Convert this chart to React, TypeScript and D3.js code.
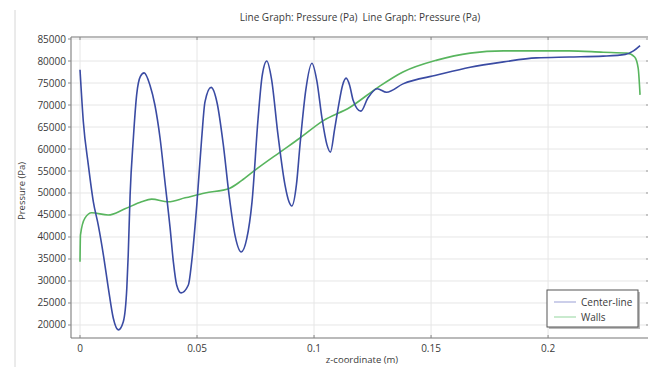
import React from "react";
import * as d3 from "d3";

// z-coordinate (m) and pressure (Pa) along the center-line
const centerZ = [
  0, 0.00142, 0.00355, 0.0057, 0.0078, 0.01, 0.0121, 0.0142, 0.0164, 0.0185, 0.02,
  0.0206, 0.0214, 0.0228, 0.0242, 0.0258, 0.0274, 0.0299, 0.032, 0.0342, 0.0363, 0.0385,
  0.0399, 0.0413, 0.0432, 0.0463, 0.0477, 0.0499, 0.052, 0.0534, 0.056, 0.0586, 0.0612,
  0.0637, 0.0663, 0.0689, 0.0712, 0.0735, 0.0761, 0.0778, 0.0798, 0.0818, 0.0846, 0.0876,
  0.0893, 0.0905, 0.0925, 0.094, 0.0965, 0.0991, 0.1012, 0.1034, 0.1055, 0.107, 0.1088,
  0.1103, 0.1122, 0.1137, 0.1152, 0.1167, 0.12, 0.123, 0.127, 0.131, 0.138, 0.1525,
  0.1667, 0.181, 0.195, 0.209, 0.2235, 0.233, 0.2365, 0.2393,
];
const centerP = [
  78000, 66200, 56400, 48000, 42700, 35900, 28400, 21600, 18900, 20750, 28400,
  35900, 49500, 62500, 72300, 76500, 77300, 74500, 70000, 62500, 52500, 42000,
  34300, 29100, 27300, 29100, 34300, 47300, 62500, 70700, 74000, 70400, 61100,
  49500, 40200, 36600, 39500, 48000, 67000, 76500, 80000, 76000, 63200, 51800,
  48000, 47050, 52000, 60900, 73500, 79500, 75500, 67000, 61000, 59300, 64500,
  69300, 74500, 76100, 74500, 71100, 68600, 71600, 73700, 72900, 74800, 76800,
  78600, 79800, 80700, 80900, 81100, 81500, 82300, 83500,
];

// z-coordinate (m) and pressure (Pa) along the walls
const wallZ = [
  0, 0.0002, 0.0021, 0.005, 0.012, 0.0192, 0.0263, 0.0306, 0.0377, 0.0449, 0.0534,
  0.064, 0.069, 0.0748, 0.0855, 0.094, 0.1038, 0.1154, 0.127, 0.138, 0.1525, 0.1667,
  0.181, 0.195, 0.209, 0.2235, 0.2338, 0.237, 0.2385, 0.2393,
];
const wallP = [
  34400, 40500, 44300, 45500, 45000, 46400, 48000, 48600, 48000, 48900, 50000,
  51100, 52800, 55200, 59300, 62500, 66400, 69500, 73900, 77500, 80200, 81800,
  82300, 82300, 82300, 82000, 81800, 80900, 78400, 72300,
];

const xTicks = [0, 0.05, 0.1, 0.15, 0.2];
const xTickLabels = ["0", "0.05", "0.1", "0.15", "0.2"];
const yTicks = [20000, 25000, 30000, 35000, 40000, 45000, 50000, 55000, 60000, 65000, 70000, 75000, 80000, 85000];

const seriesNames = ["Center-line", "Walls"];
const seriesColors = ["#3a4ba3", "#58b55e"];
const legendColors = ["#aab0dc", "#a6dcae"];

const W = 655;
const H = 367;
const M = { left: 71, right: 648, top: 37, bottom: 338 };
const FONT = "'Open Sans', 'DejaVu Sans', sans-serif";
const TEXT = "#3a3a3a";

export default function App() {
  const x = d3.scaleLinear().domain([-0.00385, 0.2427]).range([M.left, M.right]);
  const y = d3.scaleLinear().domain([17045, 85455]).range([M.bottom, M.top]);

  const line = d3
    .line<[number, number]>()
    .x((d) => x(d[0]))
    .y((d) => y(d[1]))
    .curve(d3.curveMonotoneX);

  const centerPath = line(centerZ.map((z, i) => [z, centerP[i]]) as [number, number][]) || "";
  const wallPath = line(wallZ.map((z, i) => [z, wallP[i]]) as [number, number][]) || "";

  return (
    <svg
      width={W}
      height={H}
      style={{ position: "fixed", left: 0, top: 0, background: "#fff" }}
      fontFamily={FONT}
    >
      <rect x={0} y={0} width={W} height={H} fill="#fff" />
      <line x1={15} x2={15} y1={10} y2={H} stroke="#d6d6d6" strokeWidth={1} />

      {/* grid */}
      {yTicks.map((t) => (
        <line key={"gy" + t} x1={M.left} x2={M.right} y1={y(t)} y2={y(t)} stroke="#e6e6e6" strokeWidth={1} />
      ))}
      {xTicks.map((t) => (
        <line key={"gx" + t} x1={x(t)} x2={x(t)} y1={M.top} y2={M.bottom} stroke="#e6e6e6" strokeWidth={1} />
      ))}

      {/* frame */}
      <line x1={M.left} x2={M.right} y1={M.top} y2={M.top} stroke="#777" strokeWidth={1.2} />
      <line x1={M.left} x2={M.left} y1={M.top} y2={M.bottom} stroke="#888" strokeWidth={1.2} />
      <line x1={M.left} x2={M.right} y1={M.bottom} y2={M.bottom} stroke="#777" strokeWidth={1.2} />

      {/* ticks */}
      {yTicks.map((t) => (
        <g key={"ty" + t}>
          <line x1={M.left - 3} x2={M.left} y1={y(t)} y2={y(t)} stroke="#888" />
          <line x1={M.right - 2} x2={M.right} y1={y(t)} y2={y(t)} stroke="#999" />
          <text x={M.left - 5} y={y(t)} dy="0.35em" textAnchor="end" fontSize={10} fill={TEXT}>
            {t}
          </text>
        </g>
      ))}
      {xTicks.map((t, i) => (
        <g key={"tx" + t}>
          <line x1={x(t)} x2={x(t)} y1={M.bottom} y2={M.bottom - 3} stroke="#888" />
          <line x1={x(t)} x2={x(t)} y1={M.top} y2={M.top + 3} stroke="#888" />
          <text x={x(t)} y={M.bottom + 14} textAnchor="middle" fontSize={10} fill={TEXT}>
            {xTickLabels[i]}
          </text>
        </g>
      ))}

      {/* series */}
      <path d={wallPath} fill="none" stroke={seriesColors[1]} strokeWidth={1.6} />
      <path d={centerPath} fill="none" stroke={seriesColors[0]} strokeWidth={1.6} />

      {/* titles */}
      <text x={360} y={21} textAnchor="middle" fontSize={10} fill={TEXT} style={{ whiteSpace: "pre" }}>
        {"Line Graph: Pressure (Pa)  Line Graph: Pressure (Pa)"}
      </text>
      <text x={362} y={363} textAnchor="middle" fontSize={9.5} fill={TEXT}>
        z-coordinate (m)
      </text>
      <text transform="translate(25,191) rotate(-90)" textAnchor="middle" fontSize={9.5} fill={TEXT}>
        Pressure (Pa)
      </text>

      {/* legend */}
      <rect x={549} y={292} width={91} height={37} fill="#bbb" />
      <rect x={547} y={290} width={91} height={37} fill="#fff" stroke="#555" strokeWidth={1} />
      {seriesNames.map((name, i) => (
        <g key={name}>
          <line x1={554} x2={576} y1={302 + i * 15} y2={302 + i * 15} stroke={legendColors[i]} strokeWidth={1.2} />
          <text x={581} y={302 + i * 15} dy="0.35em" fontSize={10} fill={TEXT}>
            {name}
          </text>
        </g>
      ))}
    </svg>
  );
}
